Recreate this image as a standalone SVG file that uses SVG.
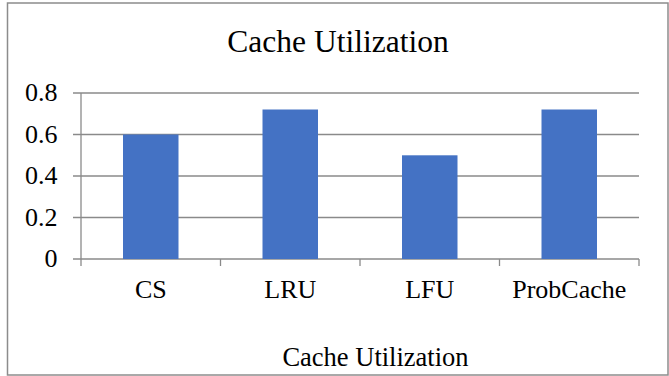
<svg xmlns="http://www.w3.org/2000/svg" width="669" height="376" viewBox="0 0 669 376">
<style>
text{font-family:"Liberation Serif","Times New Roman",serif;fill:#000}
.grid{stroke:#8a8a8a;stroke-width:1.3;fill:none}
.bar{fill:#4472C4}
.ylab{font-size:26px;text-anchor:end}
.xlab{font-size:26px;text-anchor:middle}
</style>
<rect x="0" y="0" width="669" height="376" fill="#fff"/>
<rect x="7.5" y="3" width="660.5" height="372" fill="#fff" stroke="#8c8c8c" stroke-width="1.5"/>
<g id="title"><text x="338" y="52" font-size="31.5" text-anchor="middle">Cache Utilization</text></g>
<g id="gridlines">
<line class="grid" x1="73" y1="93" x2="639" y2="93"/>
<line class="grid" x1="73" y1="134.5" x2="639" y2="134.5"/>
<line class="grid" x1="73" y1="176" x2="639" y2="176"/>
<line class="grid" x1="73" y1="217.5" x2="639" y2="217.5"/>
<line class="grid" x1="73" y1="259" x2="639" y2="259"/>
<line class="grid" x1="81" y1="93" x2="81" y2="266"/>
<line class="grid" x1="220.5" y1="259" x2="220.5" y2="266"/>
<line class="grid" x1="360" y1="259" x2="360" y2="266"/>
<line class="grid" x1="499.5" y1="259" x2="499.5" y2="266"/>
<line class="grid" x1="639" y1="259" x2="639" y2="266"/>
</g>
<g id="yaxis-labels">
<text class="ylab" x="57.5" y="101">0.8</text>
<text class="ylab" x="57.5" y="142.5">0.6</text>
<text class="ylab" x="57.5" y="184">0.4</text>
<text class="ylab" x="57.5" y="225.5">0.2</text>
<text class="ylab" x="57.5" y="267">0</text>
</g>
<g id="bar-cs"><rect class="bar" x="123" y="134.5" width="55.5" height="124.5"/><text class="xlab" x="150.8" y="298">CS</text></g>
<g id="bar-lru"><rect class="bar" x="262.5" y="109.5" width="55.5" height="149.5"/><text class="xlab" x="290.3" y="298">LRU</text></g>
<g id="bar-lfu"><rect class="bar" x="402" y="155.3" width="55.5" height="103.7"/><text class="xlab" x="429.8" y="298">LFU</text></g>
<g id="bar-probcache"><rect class="bar" x="541.5" y="109.5" width="55.5" height="149.5"/><text class="xlab" x="569.3" y="298">ProbCache</text></g>
<g id="axis-title"><text x="375.5" y="366" font-size="26.5" text-anchor="middle">Cache Utilization</text></g>
</svg>
